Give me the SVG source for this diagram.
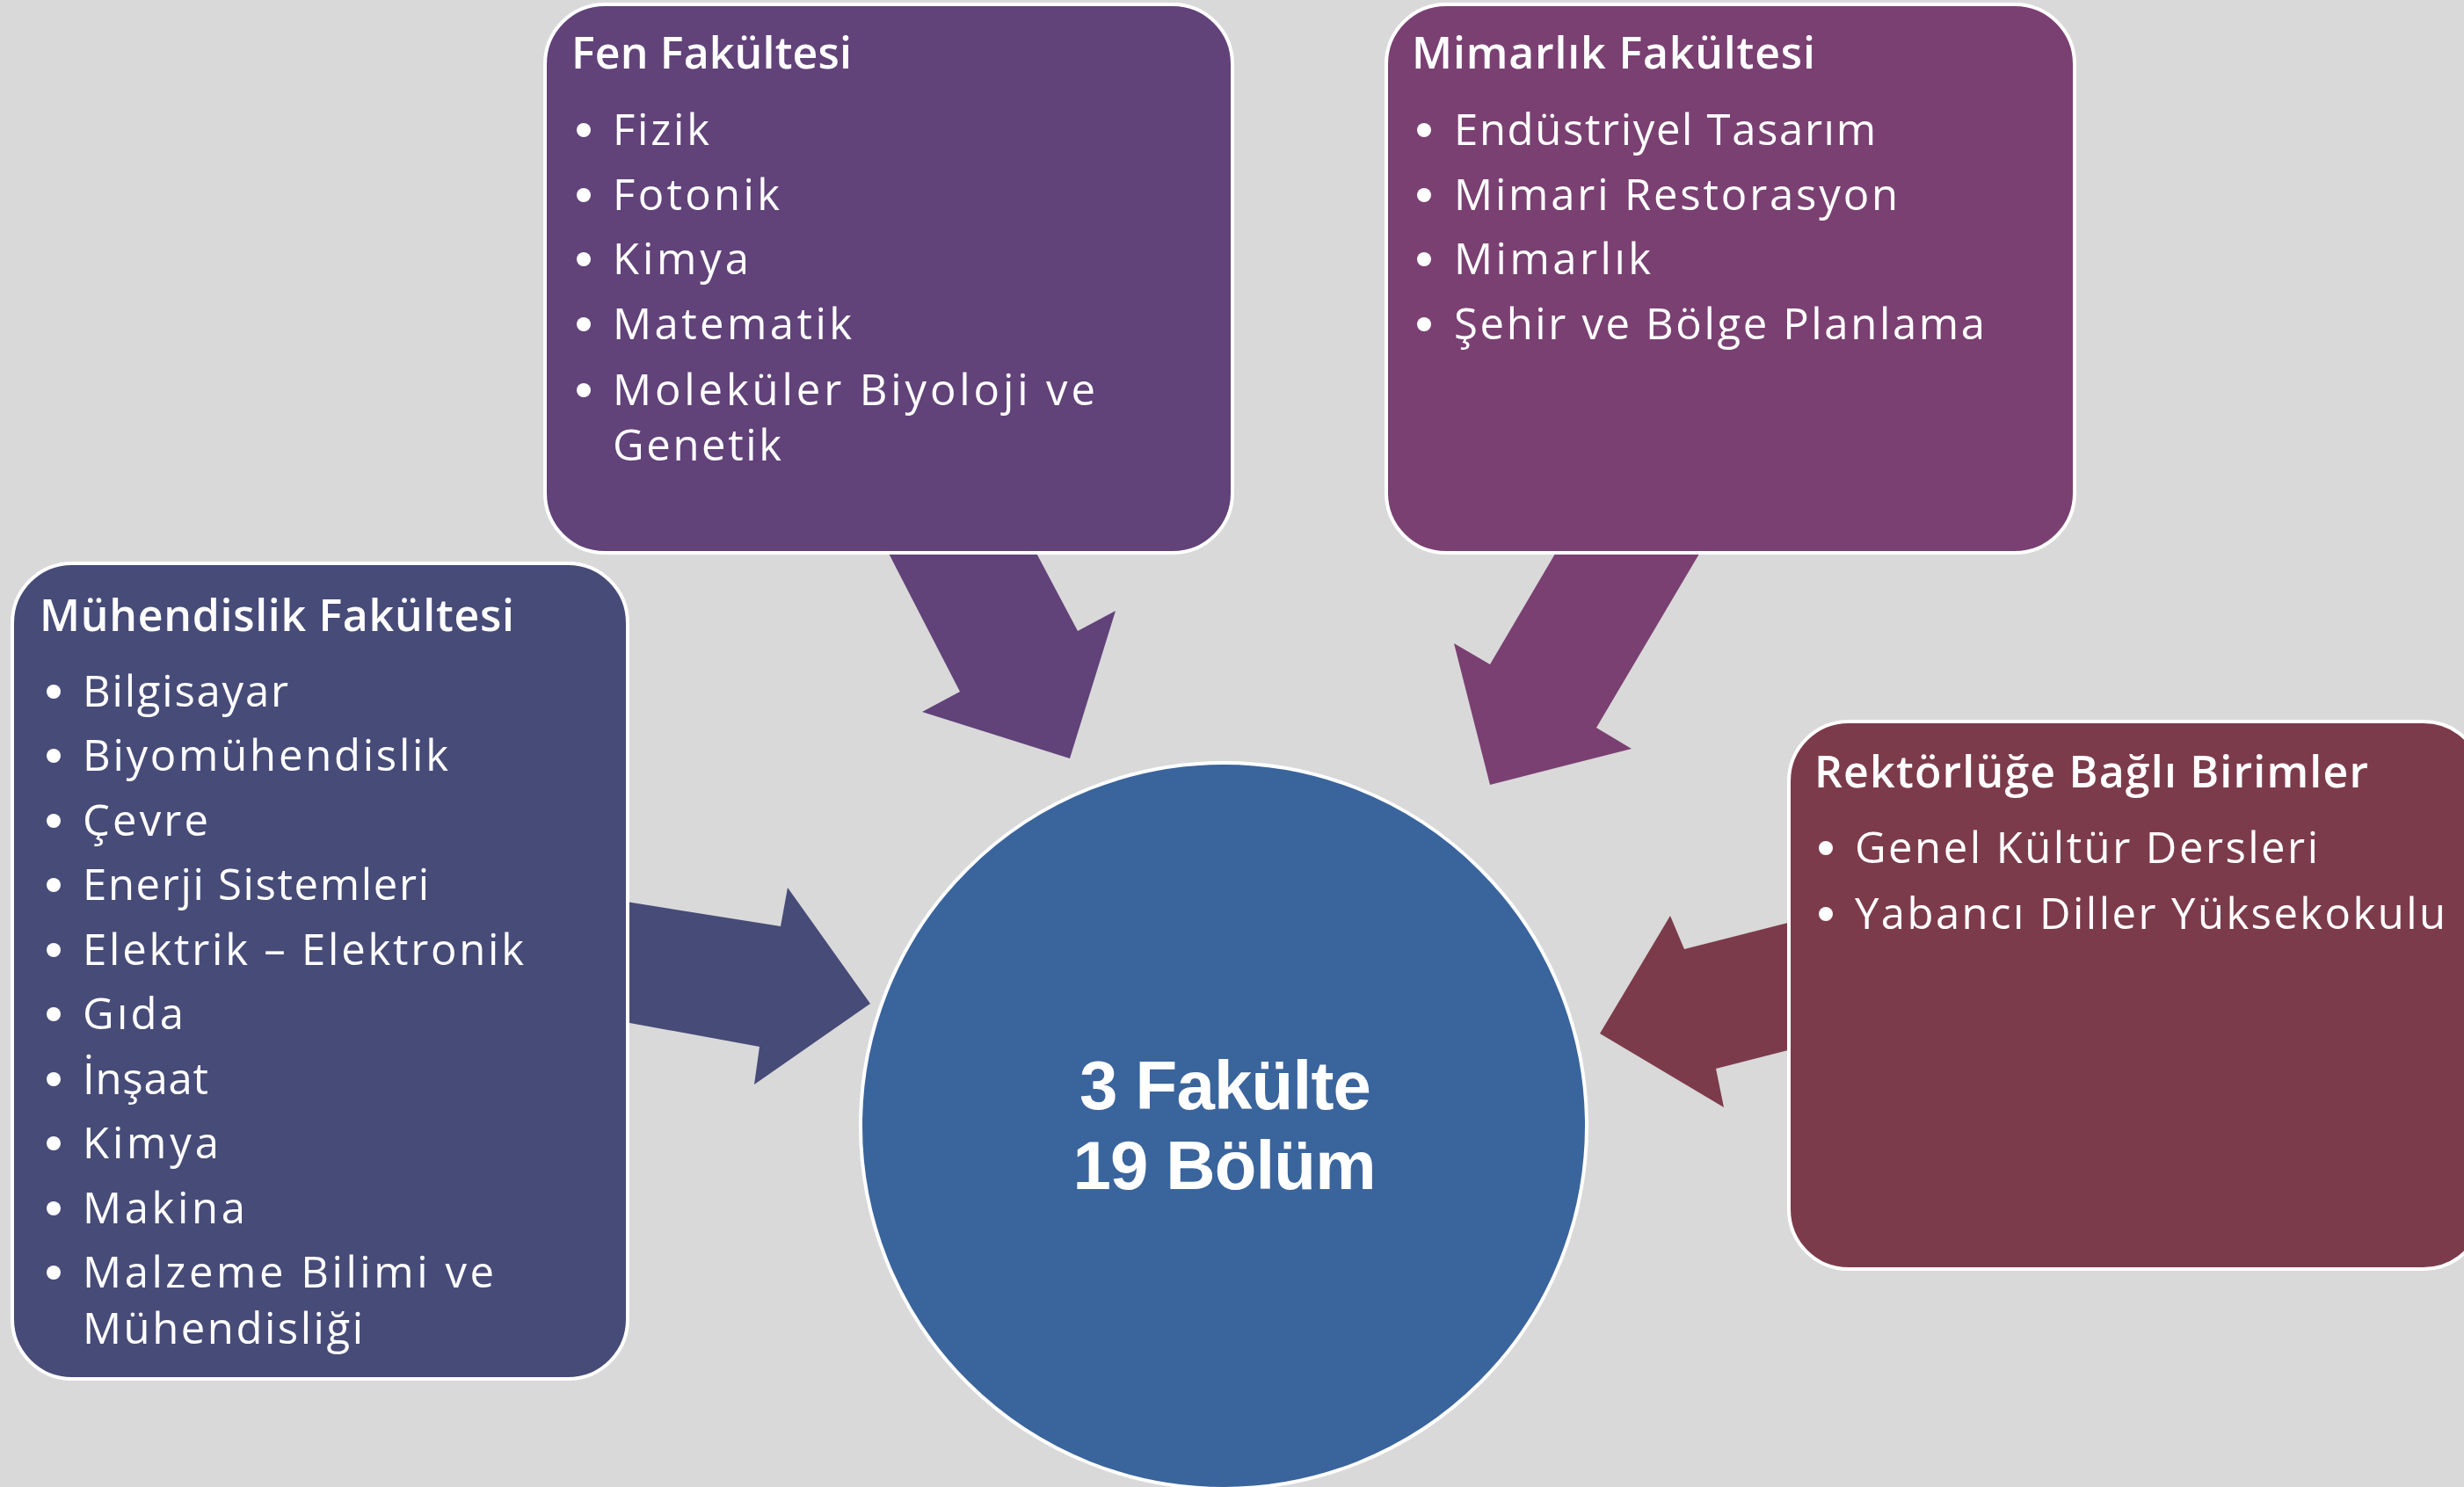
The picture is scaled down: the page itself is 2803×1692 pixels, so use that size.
<svg xmlns="http://www.w3.org/2000/svg" width="2803" height="1692" viewBox="0 0 2803 1692">
<style>
.box{stroke:#ffffff;stroke-width:4}
.t{font-family:"Open Sans","Liberation Sans",sans-serif;fill:#ffffff}
.title{font-size:50px;font-weight:600}
.item{font-size:49px}
.center{font-family:"Liberation Sans","Open Sans",sans-serif;font-size:78px;font-weight:700}
.dot{fill:#ffffff}
</style>
<rect x="0" y="0" width="2803" height="1692" fill="#d9d9d9"/>
<g id="connectors">
<polygon points="1006,620 1174,620 1226,718 1269,695 1217,863 1049,810 1092,787" fill="#614279"/>
<polygon points="1775,620 1939,620 1816,828 1856,852 1695,893 1654,732 1695,756" fill="#7a4072"/>
<polygon points="700,1024 888,1054 896,1010 990,1142 858,1234 864,1191 700,1161" fill="#474b78"/>
<polygon points="2050,1046 1916,1080 1900,1042 1820,1176 1961,1260 1952,1216 2050,1191" fill="#7c3b4b"/>
</g>
<g id="center">
<circle cx="1392" cy="1281" r="413" fill="#3a649c" stroke="#ffffff" stroke-width="4"/>
<text class="t center" x="1394" y="1262" text-anchor="middle" textLength="332">3 Fakülte</text>
<text class="t center" x="1393" y="1353" text-anchor="middle" textLength="345">19 Bölüm</text>
</g>
<g id="fen">
<rect class="box" x="620" y="5" width="782" height="624" rx="68" fill="#614279"/>
<text class="t title" x="650" y="78" textLength="319">Fen Fakültesi</text>
<circle class="dot" cx="664" cy="148" r="8"/>
<text class="t item" x="697" y="165" textLength="110">Fizik</text>
<circle class="dot" cx="664" cy="222" r="8"/>
<text class="t item" x="697" y="239" textLength="190">Fotonik</text>
<circle class="dot" cx="664" cy="295" r="8"/>
<text class="t item" x="697" y="312" textLength="155">Kimya</text>
<circle class="dot" cx="664" cy="369" r="8"/>
<text class="t item" x="697" y="386" textLength="272">Matematik</text>
<circle class="dot" cx="664" cy="444" r="8"/>
<text class="t item" x="697" y="461" textLength="549">Moleküler Biyoloji ve</text>
<text class="t item" x="697" y="524" textLength="192">Genetik</text>
</g>
<g id="mimarlik">
<rect class="box" x="1577" y="5" width="783" height="624" rx="68" fill="#7a4072"/>
<text class="t title" x="1606" y="78" textLength="459">Mimarlık Fakültesi</text>
<circle class="dot" cx="1620" cy="148" r="8"/>
<text class="t item" x="1654" y="165" textLength="480">Endüstriyel Tasarım</text>
<circle class="dot" cx="1620" cy="222" r="8"/>
<text class="t item" x="1654" y="239" textLength="505">Mimari Restorasyon</text>
<circle class="dot" cx="1620" cy="295" r="8"/>
<text class="t item" x="1654" y="312" textLength="224">Mimarlık</text>
<circle class="dot" cx="1620" cy="369" r="8"/>
<text class="t item" x="1654" y="386" textLength="604">Şehir ve Bölge Planlama</text>
</g>
<g id="muhendislik">
<rect class="box" x="14" y="641" width="700" height="928" rx="68" fill="#474b78"/>
<text class="t title" x="45" y="718" textLength="540">Mühendislik Fakültesi</text>
<circle class="dot" cx="61" cy="787" r="8"/>
<text class="t item" x="94" y="804" textLength="234">Bilgisayar</text>
<circle class="dot" cx="61" cy="860" r="8"/>
<text class="t item" x="94" y="877" textLength="416">Biyomühendislik</text>
<circle class="dot" cx="61" cy="934" r="8"/>
<text class="t item" x="94" y="951" textLength="143">Çevre</text>
<circle class="dot" cx="61" cy="1007" r="8"/>
<text class="t item" x="94" y="1024" textLength="394">Enerji Sistemleri</text>
<circle class="dot" cx="61" cy="1081" r="8"/>
<text class="t item" x="94" y="1098" textLength="502">Elektrik – Elektronik</text>
<circle class="dot" cx="61" cy="1154" r="8"/>
<text class="t item" x="94" y="1171" textLength="115">Gıda</text>
<circle class="dot" cx="61" cy="1228" r="8"/>
<text class="t item" x="94" y="1245" textLength="143">İnşaat</text>
<circle class="dot" cx="61" cy="1301" r="8"/>
<text class="t item" x="94" y="1318" textLength="155">Kimya</text>
<circle class="dot" cx="61" cy="1375" r="8"/>
<text class="t item" x="94" y="1392" textLength="185">Makina</text>
<circle class="dot" cx="61" cy="1448" r="8"/>
<text class="t item" x="94" y="1465" textLength="468">Malzeme Bilimi ve</text>
<text class="t item" x="94" y="1529" textLength="319">Mühendisliği</text>
</g>
<g id="rektorluk">
<rect class="box" x="2035" y="821" width="790" height="623" rx="68" fill="#7c3b4b"/>
<text class="t title" x="2064" y="896" textLength="630">Rektörlüğe Bağlı Birimler</text>
<circle class="dot" cx="2077" cy="965" r="8"/>
<text class="t item" x="2110" y="982" textLength="527">Genel Kültür Dersleri</text>
<circle class="dot" cx="2077" cy="1040" r="8"/>
<text class="t item" x="2110" y="1057" textLength="672">Yabancı Diller Yüksekokulu</text>
</g>
</svg>
